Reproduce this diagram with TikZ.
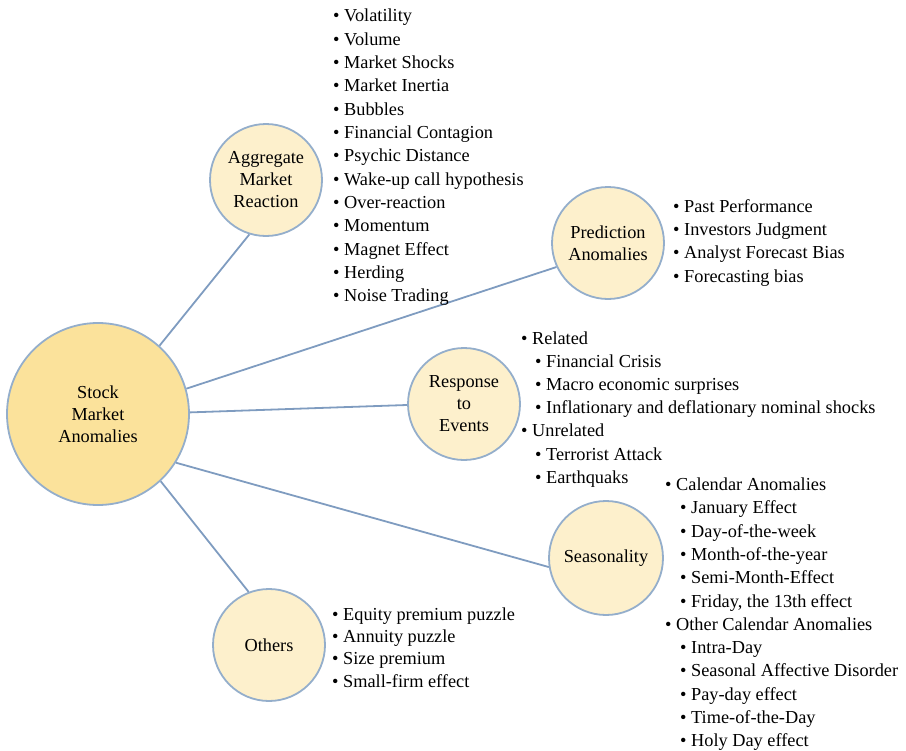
\documentclass[tikz,border=0pt]{standalone}
\usepackage{fontspec}
\setmainfont{Liberation Serif}
\newcommand\itemfont{\fontsize{18.3bp}{22bp}\selectfont}
\definecolor{bigfill}{HTML}{FBE29B}
\definecolor{smallfill}{HTML}{FDF0CC}
\definecolor{ringcol}{HTML}{94AECB}
\definecolor{linecol}{HTML}{7F9CC0}
\tikzset{
  bubble/.style={circle, draw=ringcol, line width=1.8bp, fill=smallfill, inner sep=0pt,
    minimum size=112bp, align=center, font=\itemfont},
  bigbubble/.style={bubble, fill=bigfill, minimum size=182bp},
  conn/.style={draw=linecol, line width=1.8bp},
  item/.style={anchor=base west, inner sep=0pt, font=\itemfont}
}
\begin{document}
\begin{tikzpicture}[x=1bp,y=-1bp]
\useasboundingbox (0,0) rectangle (906,751);
\node[bigbubble] (big) at (98,414) {Stock\\Market\\Anomalies};
\node[bubble] (agg) at (266,180) {Aggregate\\Market\\Reaction};
\node[bubble] (pred) at (608,243) {Prediction\\Anomalies};
\node[bubble] (resp) at (464,404) {Response\\to\\Events};
\node[bubble, minimum size=114bp] (seas) at (606,558) {Seasonality};
\node[bubble] (oth) at (269,645) {Others};
\draw[conn] (big.48) -- (agg.253);
\draw[conn] (big.16.6) -- (pred.205);
\draw[conn] (big.1) -- (resp.181);
\draw[conn] (big.-32.5) -- (seas.189);
\draw[conn] (big.-47.6) -- (oth.111.6);
% Aggregate list
\foreach \t [count=\i] in {Volatility, Volume, Market Shocks, Market Inertia, Bubbles,
  Financial Contagion, Psychic Distance, Wake-up call hypothesis, Over-reaction,
  Momentum, Magnet Effect, Herding, Noise Trading}
  \node[item] (agg-\i) at (333, {21.7+(\i-1)*23.33}) {\textbullet\ \t};
% Prediction list
\foreach \t [count=\i] in {Past Performance, Investors Judgment, Analyst Forecast Bias, Forecasting bias}
  \node[item] (pred-\i) at (673, {212.3+(\i-1)*23.3}) {\textbullet\ \t};
% Response list
\foreach \lv/\t [count=\i] in {0/Related, 1/Financial Crisis, 1/Macro economic surprises,
  1/Inflationary and deflationary nominal shocks, 0/Unrelated, 1/Terrorist Attack, 1/Earthquaks}
  \node[item] (resp-\i) at ({521+\lv*14}, {344+(\i-1)*23.2}) {\textbullet\ \t};
% Seasonality list
\foreach \lv/\t [count=\i] in {0/Calendar Anomalies, 1/January Effect, 1/Day-of-the-week,
  1/Month-of-the-year, 1/Semi-Month-Effect, {1/Friday, the 13th effect}, 0/Other Calendar Anomalies,
  1/Intra-Day, 1/Seasonal Affective Disorder, 1/Pay-day effect, 1/Time-of-the-Day, 1/Holy Day effect}
  \node[item] (seas-\i) at ({665+\lv*15}, {490.7+(\i-1)*23.27}) {\textbullet\ \t};
% Others list
\foreach \t [count=\i] in {Equity premium puzzle, Annuity puzzle, Size premium, Small-firm effect}
  \node[item] (oth-\i) at (332, {620+(\i-1)*22.4}) {\textbullet\ \t};
\end{tikzpicture}
\end{document}
